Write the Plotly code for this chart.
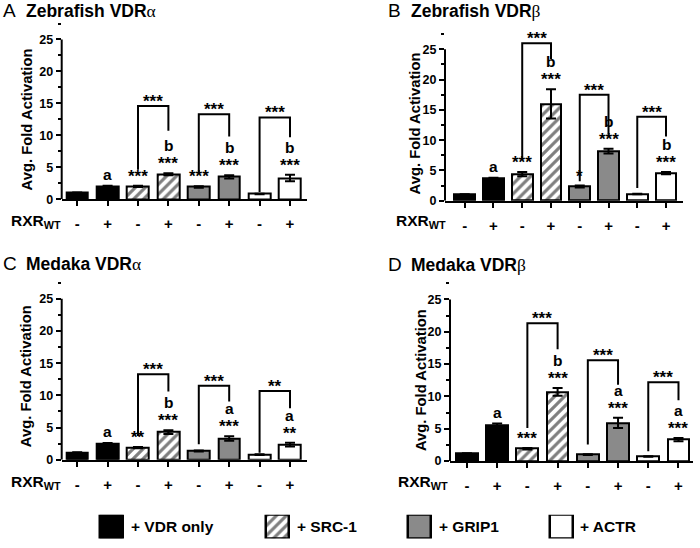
import plotly.graph_objects as go

W, H = 700, 548

# ---------------- data ----------------
rxr_ticks = ["-", "+", "-", "+", "-", "+", "-", "+"]
coactivators = ["+ VDR only", "+ SRC-1", "+ GRIP1", "+ ACTR"]
bar_group = [0, 0, 1, 1, 2, 2, 3, 3]

panel_letters = ["A", "B", "C", "D"]
panel_names = ["Zebrafish VDR", "Zebrafish VDR", "Medaka VDR", "Medaka VDR"]
panel_greek = ["α", "β", "α", "β"]

# A: Zebrafish VDRa
zfa_mean = [1.0, 2.0, 2.0, 3.9, 1.9, 3.5, 0.8, 3.3]
zfa_err = [0.05, 0.1, 0.1, 0.15, 0.12, 0.25, 0.05, 0.5]
zfa_letter = ["", "a", "", "b", "", "b", "", "b"]
zfa_stars = ["", "", "***", "***", "***", "***", "", "***"]
zfa_br_top = [14.6, 13.3, 12.8]
zfa_br_left = [4.6, 4.1, 1.1]
zfa_br_right = [10.7, 9.8, 9.7]
zfa_br_label = ["***", "***", "***"]

# B: Zebrafish VDRb
zfb_mean = [1.0, 3.7, 4.4, 16.0, 2.35, 8.2, 1.1, 4.55]
zfb_err = [0.05, 0.1, 0.35, 2.4, 0.15, 0.4, 0.05, 0.2]
zfb_letter = ["", "a", "", "b", "", "b", "", "b"]
zfb_stars = ["", "", "***", "***", "*", "***", "", "***"]
zfb_br_top = [26.0, 17.5, 13.85]
zfb_br_left = [6.8, 3.2, 2.1]
zfb_br_right = [23.4, 10.9, 10.6]
zfb_br_label = ["***", "***", "***"]

# C: Medaka VDRa
mda_mean = [1.1, 2.5, 1.9, 4.3, 1.35, 3.3, 0.8, 2.35]
mda_err = [0.05, 0.1, 0.1, 0.3, 0.08, 0.35, 0.05, 0.3]
mda_letter = ["", "a", "", "b", "", "a", "", "a"]
mda_stars = ["", "", "**", "***", "", "***", "", "**"]
mda_br_top = [13.3, 11.5, 10.7]
mda_br_left = [3.7, 2.4, 1.1]
mda_br_right = [10.6, 9.05, 8.0]
mda_br_label = ["***", "***", "**"]

# D: Medaka VDRb
mdb_mean = [1.15, 5.5, 1.9, 10.7, 1.0, 5.9, 0.7, 3.3]
mdb_err = [0.05, 0.3, 0.1, 0.6, 0.05, 0.8, 0.05, 0.25]
mdb_letter = ["", "a", "", "b", "", "a", "", "a"]
mdb_stars = ["", "", "***", "***", "", "***", "", "***"]
mdb_br_top = [21.3, 15.6, 12.2]
mdb_br_left = [5.1, 2.55, 1.5]
mdb_br_right = [17.3, 11.8, 9.4]
mdb_br_label = ["***", "***", "***"]

y_tickvals = [0, 5, 10, 15, 20, 25]

# ---------------- styles / layout ----------------
FONT = "Liberation Sans, Arial, sans-serif"
group_colors = ["black", "white", "#8a8a8a", "white"]
group_patterns = ["", "/", "", ""]
YMAX = 27.5
BAR_W = 0.72

panels = [
    dict(mean=zfa_mean, err=zfa_err, letter=zfa_letter, stars=zfa_stars,
         bt=zfa_br_top, bl=zfa_br_left, brr=zfa_br_right, blab=zfa_br_label,
         x0=61.7, x1=306.7, ybot=201.7, s=6.468, xr=[-0.51, 7.55],
         tx=1, ty=11, ytx=27, yty=121, rx=63, ry=224),
    dict(mean=zfb_mean, err=zfb_err, letter=zfb_letter, stars=zfb_stars,
         bt=zfb_br_top, bl=zfb_br_left, brr=zfb_br_right, blab=zfb_br_label,
         x0=445, x1=683, ybot=203.3, s=6.132, xr=[-0.685, 7.59],
         tx=386, ty=11, ytx=415, yty=125, rx=448, ry=224),
    dict(mean=mda_mean, err=mda_err, letter=mda_letter, stars=mda_stars,
         bt=mda_br_top, bl=mda_br_left, brr=mda_br_right, blab=mda_br_label,
         x0=61.7, x1=306.7, ybot=465.7, s=6.52, xr=[-0.51, 7.55],
         tx=1, ty=267, ytx=26, yty=381, rx=63, ry=489),
    dict(mean=mdb_mean, err=mdb_err, letter=mdb_letter, stars=mdb_stars,
         bt=mdb_br_top, bl=mdb_br_left, brr=mdb_br_right, blab=mdb_br_label,
         x0=450, x1=693, ybot=467, s=6.548, xr=[-0.56, 7.48],
         tx=386, ty=268, ytx=421, yty=385, rx=450, ry=489),
]

fig = go.Figure()
annotations = []
shapes = []
layout = {}

def bold(size):
    return dict(family=FONT, size=size, color="black", weight="bold")

for p_i, p in enumerate(panels):
    n = p_i + 1
    sfx = "" if n == 1 else str(n)
    xa, ya = "x" + sfx, "y" + sfx
    for g in range(4):
        idx = [i for i in range(8) if bar_group[i] == g]
        fig.add_trace(go.Bar(
            x=idx, y=[p["mean"][i] for i in idx], width=BAR_W,
            xaxis=xa, yaxis=ya, showlegend=False, name=coactivators[g],
            marker=dict(color=group_colors[g],
                        line=dict(color="black", width=2),
                        pattern=dict(shape=group_patterns[g], fgcolor="black",
                                     bgcolor="white", size=7, solidity=0.45)),
            error_y=dict(type="data", array=[p["err"][i] for i in idx],
                         color="black", thickness=2, width=5),
        ))
    ydom = [1 - p["ybot"] / H, 1 - (p["ybot"] - YMAX * p["s"]) / H]
    layout["xaxis" + sfx] = dict(
        domain=[p["x0"] / W, p["x1"] / W], range=p["xr"], anchor=ya,
        tickmode="array", tickvals=list(range(8)), ticktext=rxr_ticks,
        showline=True, linecolor="black", linewidth=2, ticks="outside",
        ticklen=5, tickwidth=2, tickcolor="black", tickfont=bold(15),
        ticklabelstandoff=5, showgrid=False, zeroline=False, fixedrange=True)
    layout["yaxis" + sfx] = dict(
        domain=ydom, range=[0, YMAX], anchor=xa, tickmode="array",
        tickvals=y_tickvals, showline=False, ticks="outside", ticklen=5,
        tickwidth=2, tickcolor="black", tickfont=bold(12.5), showgrid=False,
        zeroline=False, fixedrange=True,
        minor=dict(tickmode="linear", tick0=0, dtick=2.5, ticks="outside",
                   ticklen=3, tickwidth=1.5, tickcolor="black", showgrid=False))
    # y axis line up to 25
    shapes.append(dict(type="line", xref=xa + " domain", yref=ya, x0=0, x1=0,
                       y0=0, y1=y_tickvals[-1],
                       line=dict(color="black", width=2)))
    # bar annotations
    for i in range(8):
        top = p["mean"][i] + p["err"][i]
        if p["stars"][i]:
            annotations.append(dict(xref=xa, yref=ya, x=i, y=top, text=p["stars"][i],
                                    showarrow=False, yanchor="bottom", yshift=-2,
                                    font=bold(17)))
        if p["letter"][i]:
            annotations.append(dict(xref=xa, yref=ya, x=i, y=top, text=p["letter"][i],
                                    showarrow=False, yanchor="bottom",
                                    yshift=17 if p["stars"][i] else 1,
                                    font=bold(15.5)))
    # brackets
    for k in range(3):
        l, r = 2 * (k + 1), 2 * (k + 1) + 1
        shapes.append(dict(type="path", xref=xa, yref=ya,
                           path=f"M {l},{p['bl'][k]} L {l},{p['bt'][k]} L {r},{p['bt'][k]} L {r},{p['brr'][k]}",
                           line=dict(color="black", width=2)))
        annotations.append(dict(xref=xa, yref=ya, x=(l + r) / 2, y=p["bt"][k],
                                text=p["blab"][k], showarrow=False, yanchor="bottom",
                                yshift=-7, font=bold(17)))
    # panel titles
    annotations.append(dict(xref="paper", yref="paper", x=p["tx"] / W, y=1 - p["ty"] / H,
                            text=panel_letters[p_i], showarrow=False, xanchor="left",
                            yanchor="middle",
                            font=dict(family=FONT, size=19, color="black")))
    annotations.append(dict(xref="paper", yref="paper", x=(p["tx"] + 23) / W, y=1 - p["ty"] / H,
                            text=panel_names[p_i] + '<span style="font-family:Liberation Serif;font-weight:normal">'
                            + panel_greek[p_i] + "</span>",
                            showarrow=False, xanchor="left", yanchor="middle", font=bold(17.5)))
    # y axis title
    annotations.append(dict(xref="paper", yref="paper", x=p["ytx"] / W, y=1 - p["yty"] / H,
                            text="Avg. Fold Activation", textangle=-90, showarrow=False,
                            xanchor="center", yanchor="middle", font=bold(14.8)))
    # RXR_WT label
    annotations.append(dict(xref="paper", yref="paper", x=p["rx"] / W, y=1 - p["ry"] / H,
                            text="RXR<sub>WT</sub>", showarrow=False, xanchor="right",
                            yanchor="middle", font=bold(15.5)))

# ---------------- legend (custom swatches) ----------------
legend_cx = [111.7, 277.5, 419.7, 561]
for g in range(4):
    fig.add_trace(go.Bar(
        x=[legend_cx[g]], y=[1], width=[23], xaxis="x5", yaxis="y5",
        showlegend=False, name=coactivators[g], hoverinfo="skip",
        marker=dict(color=group_colors[g], line=dict(color="black", width=2.5),
                    pattern=dict(shape=group_patterns[g], fgcolor="black",
                                 bgcolor="white", size=7, solidity=0.45))))
    annotations.append(dict(xref="x5", yref="y5", x=legend_cx[g] + 17, y=0.5,
                            text=coactivators[g], showarrow=False, xanchor="left",
                            yanchor="middle", font=bold(15.5)))
layout["xaxis5"] = dict(domain=[0, 1], range=[0, W], anchor="y5", visible=False,
                        fixedrange=True)
layout["yaxis5"] = dict(domain=[1 - 545.5 / H, 1 - 521.5 / H], range=[0, 1],
                        anchor="x5", visible=False, fixedrange=True)

fig.update_layout(
    width=W, height=H, margin=dict(l=0, r=0, t=0, b=0),
    paper_bgcolor="white", plot_bgcolor="rgba(0,0,0,0)",
    showlegend=False, bargap=0, annotations=annotations, shapes=shapes,
    font=dict(family=FONT, color="black"),
    **layout)

fig.write_html("out.html", config={"displayModeBar": False},
               post_script="document.body.style.margin='0';document.body.style.padding='0';")
